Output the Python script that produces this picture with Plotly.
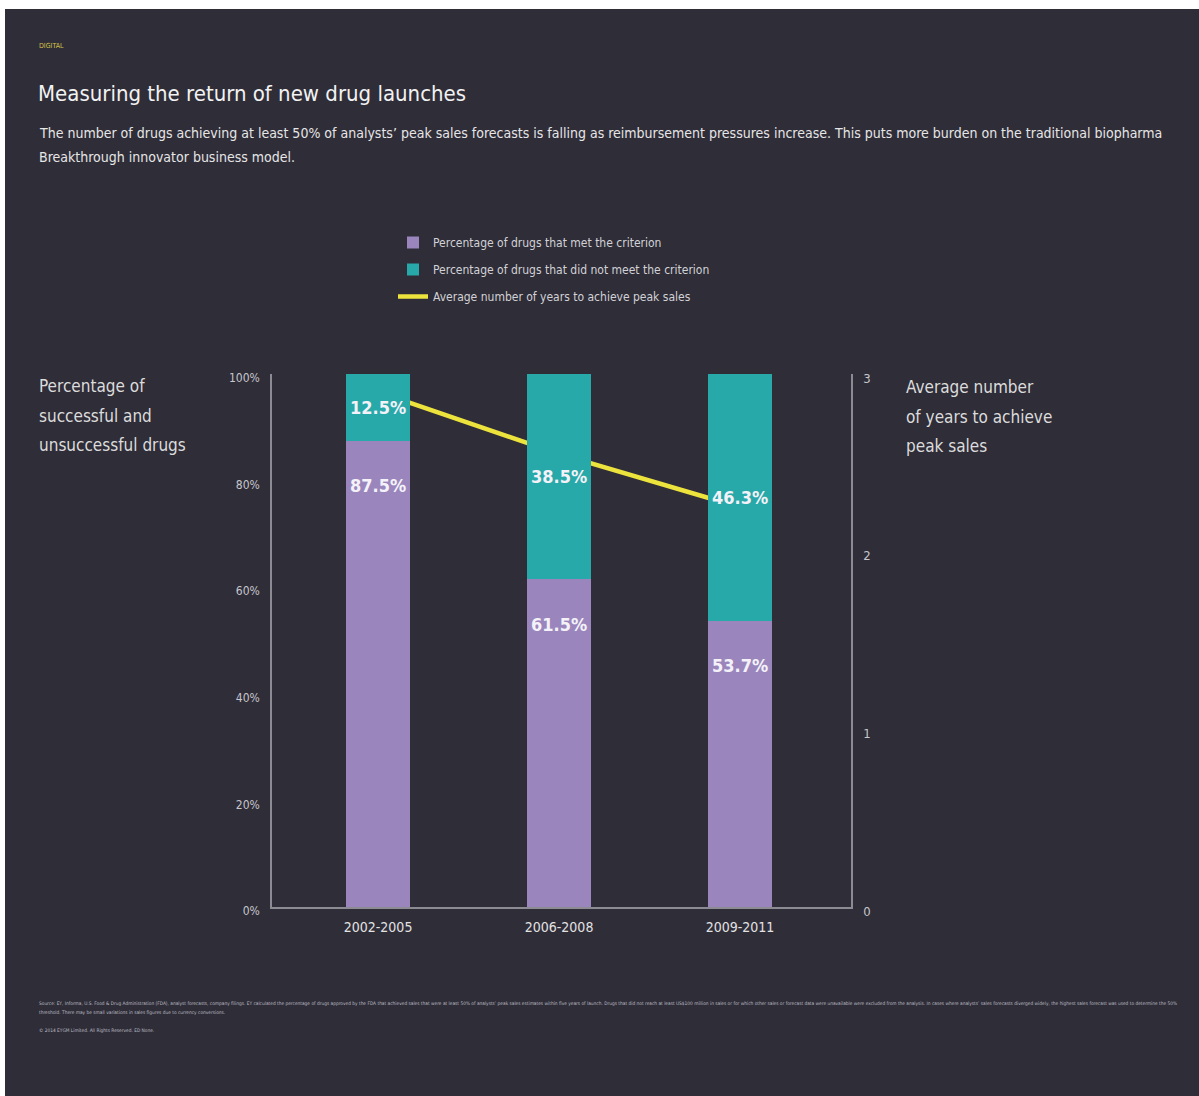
import plotly.graph_objects as go

# ---- data ----
periods = ["2002-2005", "2006-2008", "2009-2011"]
pct_met = [87.5, 61.5, 53.7]
pct_not_met = [12.5, 38.5, 46.3]
avg_years_to_peak = [2.9, 2.55, 2.25]

pct_ticks = [0, 20, 40, 60, 80, 100]
year_ticks = [0, 1, 2, 3]

# ---- styling ----
BG = "#2f2d38"
PURPLE = "#9a86bd"
TEAL = "#27a8a9"
YELLOW = "#ece33c"
AXIS = "#8c8b93"
FONT = "Liberation Sans Narrow, DejaVu Sans Condensed, Arial Narrow, sans-serif"

FIG_W, FIG_H = 1199, 1096
M_L, M_R, M_T, M_B = 272, 348, 374, 189
PLOT_W = FIG_W - M_L - M_R
PLOT_H = FIG_H - M_T - M_B


def px_x(px):
    return (px - M_L) / PLOT_W


def px_y(py):
    return (FIG_H - M_B - py) / PLOT_H


fig = go.Figure()

# line sits on the base y axis so the stacked bars (overlay axis) draw above it
fig.add_trace(go.Scatter(
    x=periods, y=avg_years_to_peak, yaxis="y", mode="lines",
    line=dict(color=YELLOW, width=4.5),
    name="Average number of years to achieve peak sales",
    legendgroup="years", hoverinfo="skip",
))
fig.add_trace(go.Bar(
    x=periods, y=pct_met, yaxis="y2", width=0.35,
    marker=dict(color=PURPLE, line=dict(width=0)),
    name="Percentage of drugs that met the criterion",
    legendgroup="met",
))
fig.add_trace(go.Bar(
    x=periods, y=pct_not_met, yaxis="y2", width=0.35,
    marker=dict(color=TEAL, line=dict(width=0)),
    name="Percentage of drugs that did not meet the criterion",
    legendgroup="notmet",
))

annotations = []
# value labels inside the bars
LABEL_FONT = dict(family=FONT, size=18, color="#f4f2f8", weight="bold")
for p, met, miss in zip(periods, pct_met, pct_not_met):
    annotations.append(dict(
        x=p, y=met, xref="x", yref="y2", text=f"{met:.1f}%",
        showarrow=False, yshift=-45, yanchor="middle", font=LABEL_FONT,
    ))
    annotations.append(dict(
        x=p, y=met + miss / 2, xref="x", yref="y2", text=f"{miss:.1f}%",
        showarrow=False, yanchor="middle", font=LABEL_FONT,
    ))

# header texts
annotations += [
    dict(x=px_x(37), y=px_y(46), xref="paper", yref="paper", xanchor="left",
         yanchor="middle", showarrow=False, text="DIGITAL",
         font=dict(family=FONT, size=7, color="#d2c24a")),
    dict(x=px_x(36), y=px_y(93), xref="paper", yref="paper", xanchor="left",
         yanchor="middle", showarrow=False,
         text="Measuring the return of new drug launches",
         font=dict(family=FONT, size=22, color="#f2f2f2")),
    dict(x=px_x(37), y=px_y(133), xref="paper", yref="paper", xanchor="left",
         yanchor="middle", showarrow=False,
         text="The number of drugs achieving at least 50% of analysts\u2019 peak sales forecasts is falling as reimbursement pressures increase. This puts more burden on the traditional biopharma",
         font=dict(family=FONT, size=14, color="#e6e6e6")),
    dict(x=px_x(37), y=px_y(157), xref="paper", yref="paper", xanchor="left",
         yanchor="middle", showarrow=False,
         text="Breakthrough innovator business model.",
         font=dict(family=FONT, size=14, color="#e6e6e6")),
]

# axis titles, one annotation per line
left_title = ["Percentage of", "successful and", "unsuccessful drugs"]
right_title = ["Average number", "of years to achieve", "peak sales"]
for i, line in enumerate(left_title):
    annotations.append(dict(
        x=px_x(37), y=px_y(386 + 29.5 * i), xref="paper", yref="paper",
        xanchor="left", yanchor="middle", showarrow=False, text=line,
        font=dict(family=FONT, size=17, color="#dcdcdc")))
for i, line in enumerate(right_title):
    annotations.append(dict(
        x=px_x(904), y=px_y(387 + 29.5 * i), xref="paper", yref="paper",
        xanchor="left", yanchor="middle", showarrow=False, text=line,
        font=dict(family=FONT, size=17, color="#dcdcdc")))

# source notes
source_1 = ("Source: EY, Informa, U.S. Food &amp; Drug Administration (FDA), analyst forecasts, company filings. "
            "EY calculated the percentage of drugs approved by the FDA that achieved sales that were at least 50% of analysts\u2019 "
            "peak sales estimates within five years of launch. Drugs that did not reach at least US$100 million in sales or for which "
            "other sales or forecast data were unavailable were excluded from the analysis. In cases where analysts\u2019 sales forecasts "
            "diverged widely, the highest sales forecast was used to determine the 50%")
source_2 = "threshold. There may be small variations in sales figures due to currency conversions."
copyright_note = "\u00a9 2014 EYGM Limited. All Rights Reserved. ED None."
for py, txt in [(1003, source_1), (1012, source_2), (1030, copyright_note)]:
    annotations.append(dict(
        x=px_x(37), y=px_y(py), xref="paper", yref="paper", xanchor="left",
        yanchor="middle", showarrow=False, text=txt,
        font=dict(family=FONT, size=4.8, color="#bdbdc4")))

# white page edge around the dark panel
shapes = [
    dict(type="rect", xref="paper", yref="paper", x0=px_x(0), x1=px_x(FIG_W),
         y0=px_y(9), y1=px_y(0), fillcolor="white", line=dict(width=0), layer="below"),
    dict(type="rect", xref="paper", yref="paper", x0=px_x(0), x1=px_x(5),
         y0=px_y(FIG_H), y1=px_y(0), fillcolor="white", line=dict(width=0), layer="below"),
]

fig.update_layout(
    width=FIG_W, height=FIG_H, autosize=False,
    margin=dict(l=M_L, r=M_R, t=M_T, b=M_B, pad=0),
    paper_bgcolor=BG, plot_bgcolor=BG,
    barmode="stack",
    font=dict(family=FONT, color="#d0d0d0"),
    showlegend=True,
    legend=dict(
        x=px_x(393), y=px_y(228), xanchor="left", yanchor="top",
        bgcolor="rgba(0,0,0,0)", traceorder="grouped",
        font=dict(family=FONT, size=12, color="#d2d2d6"),
        tracegroupgap=8,
    ),
    xaxis=dict(
        type="category", categoryorder="array", categoryarray=periods,
        range=[-0.586, 2.613], showline=True, linecolor=AXIS, linewidth=1.5,
        showgrid=False, zeroline=False, ticks="", ticklabelstandoff=6,
        tickfont=dict(family=FONT, size=14, color="#e2e2e2"),
    ),
    yaxis=dict(
        side="right", range=[0, 3], tickvals=year_ticks,
        showline=True, linecolor=AXIS, linewidth=1.5, showgrid=False,
        zeroline=False, ticks="", ticklabelstandoff=8, ticklabelshift=4,
        tickfont=dict(family=FONT, size=13, color="#c6c6cc"),
    ),
    yaxis2=dict(
        overlaying="y", side="left", range=[0, 100], tickvals=pct_ticks,
        ticktext=[f"{v}%" for v in pct_ticks],
        showline=True, linecolor=AXIS, linewidth=1.5, showgrid=False,
        zeroline=False, ticks="", ticklabelstandoff=8, ticklabelshift=4,
        tickfont=dict(family=FONT, size=12, color="#c6c6cc"),
    ),
    annotations=annotations,
    shapes=shapes,
)

# legend order: purple, teal, then the line
fig.data[0].legendrank = 3
fig.data[1].legendrank = 1
fig.data[2].legendrank = 2

fig.write_html("out.html")
